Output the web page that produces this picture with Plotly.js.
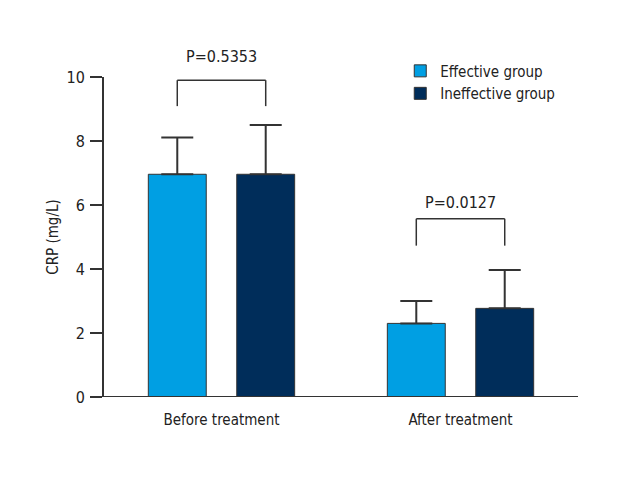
<!DOCTYPE html>
<html>
<head>
<meta charset="utf-8">
<script src="https://cdn.plot.ly/plotly-3.0.1.min.js"></script>
<style>
  html, body { margin: 0; padding: 0; background: #fff; }
  #chart { width: 620px; height: 480px; }
</style>
</head>
<body>
<div id="chart"></div>
<script>
const categories = ["Before treatment", "After treatment"];
const effectiveMean = [6.96, 2.30];
const effectiveSd = [1.15, 0.70];
const ineffectiveMean = [6.96, 2.77];
const ineffectiveSd = [1.54, 1.20];
const pLabels = ["P=0.5353", "P=0.0127"];
const pLabelY = [10.63, 6.07];
const bracketTop = [9.9, 5.57];
const bracketLeg = [9.09, 4.73];

const FONT = "'DejaVu Sans Condensed', 'Liberation Sans Narrow', 'Arial Narrow', sans-serif";
const INK = "#333333";
const halfPair = 0.185; // distance of bar centre from category centre
const plotH = 480 - 77 - 83;
const pxPerUnit = plotH / 10;

const errStyle = (vals) => ({
  type: "data",
  symmetric: false,
  array: vals,
  arrayminus: vals.map(() => 0),
  color: INK,
  thickness: 2,
  width: 16
});

const data = [
  {
    type: "bar",
    name: "Effective group",
    x: categories,
    y: effectiveMean,
    marker: {color: "#009fe3", line: {color: INK, width: 1}},
    error_y: errStyle(effectiveSd)
  },
  {
    type: "bar",
    name: "Ineffective group",
    x: categories,
    y: ineffectiveMean,
    marker: {color: "#002d5a", line: {color: INK, width: 1}},
    error_y: errStyle(ineffectiveSd)
  }
];

const shapes = [
  // x axis line running a little past the y axis, as in the figure
  {type: "line", xref: "paper", yref: "y", x0: -0.028, x1: 1, y0: 0, y1: 0,
   line: {color: INK, width: 2}}
];
const annotations = [];

categories.forEach((c, i) => {
  const l = i - halfPair;
  const r = i + halfPair;
  shapes.push(
    {type: "line", xref: "x", yref: "y", x0: l, x1: r, y0: bracketTop[i], y1: bracketTop[i], line: {color: INK, width: 1.5}},
    {type: "line", xref: "x", yref: "y", x0: l, x1: l, y0: bracketLeg[i], y1: bracketTop[i], line: {color: INK, width: 1.5}},
    {type: "line", xref: "x", yref: "y", x0: r, x1: r, y0: bracketLeg[i], y1: bracketTop[i], line: {color: INK, width: 1.5}}
  );
  // anchored on the bracket (inside the range) so it is not hidden, then lifted
  annotations.push({
    x: i, y: bracketTop[i], xref: "x", yref: "y",
    text: pLabels[i], showarrow: false,
    yanchor: "middle",
    yshift: (pLabelY[i] - bracketTop[i]) * pxPerUnit,
    font: {family: FONT, size: 16, color: "#222"}
  });
});

const layout = {
  width: 620,
  height: 480,
  margin: {l: 104, r: 42, t: 77, b: 83},
  paper_bgcolor: "#fff",
  plot_bgcolor: "#fff",
  font: {family: FONT, size: 15, color: "#222"},
  barmode: "group",
  bargap: 0.26,
  bargroupgap: 0.345,
  showlegend: true,
  legend: {
    x: 0.625, y: 1.07, xanchor: "left", yanchor: "top",
    bgcolor: "rgba(0,0,0,0)",
    tracegroupgap: 0,
    font: {family: FONT, size: 15, color: "#222"}
  },
  xaxis: {
    type: "category",
    range: [-0.4916, 1.4916],
    showline: false,
    ticks: "",
    showgrid: false,
    zeroline: false,
    ticklabelstandoff: 12,
    tickfont: {family: FONT, size: 15, color: "#222"}
  },
  yaxis: {
    range: [0, 10],
    tickvals: [0, 2, 4, 6, 8, 10],
    showline: true,
    linecolor: INK,
    linewidth: 2,
    ticks: "outside",
    ticklen: 12,
    tickwidth: 2,
    tickcolor: INK,
    showgrid: false,
    zeroline: false,
    ticklabelstandoff: 2,
    tickfont: {family: FONT, size: 16, color: "#222"},
    title: {text: "CRP (mg/L)", font: {family: FONT, size: 15, color: "#222"}, standoff: 4}
  },
  shapes: shapes,
  annotations: annotations
};

Plotly.newPlot("chart", data, layout, {displayModeBar: false, staticPlot: true});
</script>
</body>
</html>
